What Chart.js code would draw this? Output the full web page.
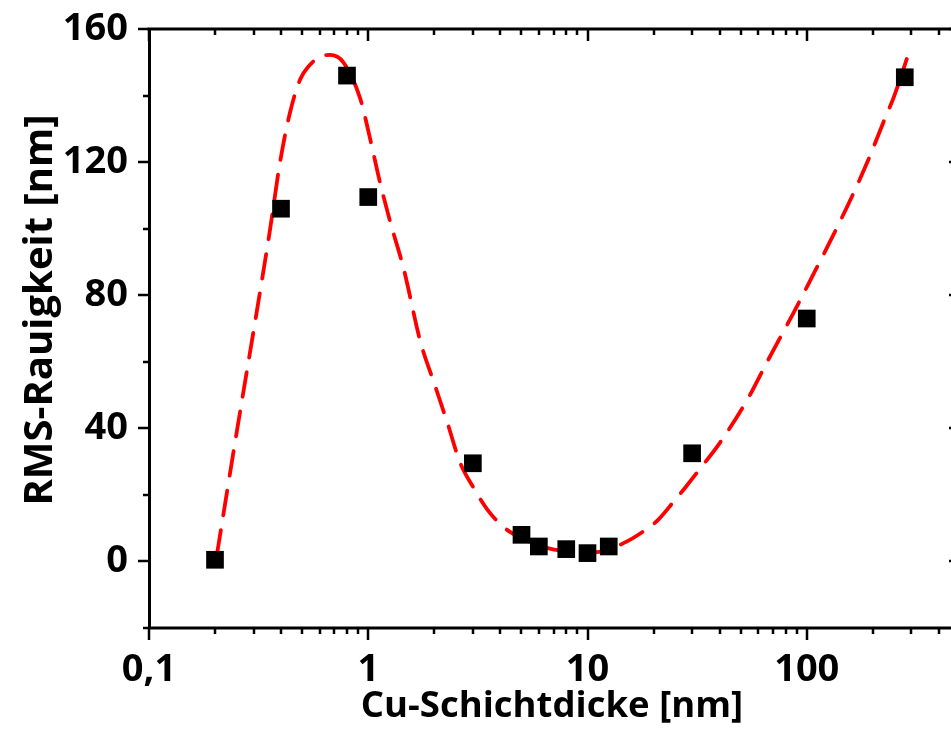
<!DOCTYPE html>
<html>
<head>
<meta charset="utf-8">
<script src="https://cdn.jsdelivr.net/npm/chart.js@4"></script>
<style>
  html, body { margin: 0; padding: 0; background: #fff; overflow: hidden; }
  canvas { display: block; }
</style>
</head>
<body>
<canvas id="chart" width="951" height="742"></canvas>
<script>
// Data
const thickness = [0.2, 0.4, 0.8, 1, 3, 5, 6, 8, 10, 12.5, 30, 100, 280];
const roughness = [0.5, 106, 146, 109.5, 29.5, 8, 4.5, 3.7, 2.5, 4.5, 32.5, 73, 145.5];

// Fitted guide curve (red dashed)
const fitX = [0.204, 0.25, 0.31, 0.357, 0.396, 0.44, 0.49, 0.53, 0.62, 0.67, 0.77, 0.92, 1.02, 1.13, 1.26, 1.45,
  1.73, 2.0, 2.3, 2.63, 3.0, 3.5, 4.2, 5.0, 6.8, 9, 11, 14.6, 18.4, 21, 25, 28, 33, 40, 54, 66, 87.5, 108, 129,
  159, 189, 225, 251, 286];
const fitY = [2, 38, 75, 100, 120, 135, 145, 148.5, 152, 152.2, 150, 139, 127, 114, 102, 88,
  66, 53.5, 41.5, 29.5, 22.5, 15.5, 10, 7, 3.8, 3, 2.8, 5.5, 9.5, 12.5, 18.4, 22.3, 28.3, 35.5, 49, 60, 75, 86.7, 96.7,
  109, 120, 132.4, 140, 151];

// Axis ticks
const xMajor = [0.1, 1, 10, 100];
const xMinorMult = [2, 3, 4, 5, 6, 7, 8, 9];
const yMajor = [0, 40, 80, 120, 160];
const yMinor = [-20, 20, 60, 100, 140];

const FONT = '"Open Sans", Lato, sans-serif';
const PLOT_RIGHT = 960; // right frame sits just past the canvas edge, as in the original crop

// Let the plot area run a little past the canvas edge
const extendRight = {
  id: 'extendRight',
  afterLayout(chart) {
    const x = chart.scales.x;
    x.right = PLOT_RIGHT;
    x.width = x.right - x.left;
    chart.chartArea.right = PLOT_RIGHT;
    chart.chartArea.width = PLOT_RIGHT - chart.chartArea.left;
    x.configure();
  }
};

// Frame, inner/outer tick marks and axis titles
const frameTicks = {
  id: 'frameTicks',
  afterDraw(chart) {
    const { ctx, chartArea: a, scales: { x, y } } = chart;
    ctx.save();
    ctx.strokeStyle = '#000';
    ctx.lineWidth = 3;
    ctx.beginPath();
    ctx.moveTo(a.left - 1.5, a.top);
    ctx.lineTo(a.right, a.top);
    ctx.lineTo(a.right, a.bottom);
    ctx.lineTo(a.left, a.bottom);
    ctx.stroke();

    ctx.lineWidth = 2.5;
    const xTicks = [];
    xMajor.forEach(v => xTicks.push([v, 12]));
    xMajor.forEach(d => xMinorMult.forEach(m => xTicks.push([d * m, 6])));
    ctx.beginPath();
    xTicks.forEach(([v, len]) => {
      if (v < x.min || v > x.max) return;
      const px = Math.round(x.getPixelForValue(v));
      ctx.moveTo(px, a.bottom); ctx.lineTo(px, a.bottom + len);
      ctx.moveTo(px, a.top); ctx.lineTo(px, a.top + len);
    });
    const yTicks = yMajor.map(v => [v, 11]).concat(yMinor.map(v => [v, 6]));
    yTicks.forEach(([v, len]) => {
      const py = Math.round(y.getPixelForValue(v));
      ctx.moveTo(a.left, py); ctx.lineTo(a.left - len, py);
      ctx.moveTo(a.right, py); ctx.lineTo(a.right - len, py);
    });
    ctx.stroke();

    ctx.fillStyle = '#000';
    ctx.font = 'bold 36.5px ' + FONT;
    ctx.textAlign = 'center';
    ctx.textBaseline = 'alphabetic';
    ctx.fillText('Cu-Schichtdicke [nm]', 552, 717);
    ctx.font = 'bold 40px ' + FONT;
    ctx.translate(52, 310);
    ctx.rotate(-Math.PI / 2);
    ctx.fillText('RMS-Rauigkeit [nm]', 0, 0);
    ctx.restore();
  }
};

new Chart(document.getElementById('chart'), {
  type: 'scatter',
  data: {
    datasets: [
      {
        label: 'Messwerte',
        data: thickness.map((t, i) => ({ x: t, y: roughness[i] })),
        pointStyle: 'rect',
        pointRadius: 12.5,
        backgroundColor: '#000',
        borderColor: '#000',
        borderWidth: 0,
        order: 0
      },
      {
        label: 'Fit',
        data: fitX.map((t, i) => ({ x: t, y: fitY[i] })),
        showLine: true,
        pointRadius: 0,
        borderColor: '#ff0000',
        borderWidth: 3.8,
        borderDash: [25, 15],
        borderCapStyle: 'round',
        cubicInterpolationMode: 'monotone',
        fill: false,
        order: 1
      }
    ]
  },
  options: {
    responsive: false,
    animation: false,
    layout: { padding: { top: 29, right: 0, left: 0, bottom: 0 } },
    plugins: { legend: { display: false }, tooltip: { enabled: false } },
    scales: {
      x: {
        type: 'logarithmic',
        min: 0.1,
        max: 500,
        afterBuildTicks: s => { s.ticks = xMajor.map(v => ({ value: v })); },
        afterFit: s => { s.height = 114; s.paddingLeft = 0; s.paddingRight = 0; },
        grid: { display: false, drawTicks: false },
        border: { display: false },
        ticks: {
          autoSkip: false,
          maxRotation: 0,
          padding: 19,
          color: '#000',
          font: { family: FONT, size: 38, weight: 'bold' },
          callback: v => (v === 0.1 ? '0,1' : String(v))
        }
      },
      y: {
        min: -20,
        max: 160,
        afterBuildTicks: s => { s.ticks = yMajor.map(v => ({ value: v })); },
        afterFit: s => { s.width = 149; s.paddingTop = 0; s.paddingBottom = 0; },
        grid: { display: false, drawTicks: false },
        border: { display: true, color: '#000', width: 3 },
        ticks: {
          padding: 21,
          color: '#000',
          font: { family: FONT, size: 38, weight: 'bold' }
        }
      }
    }
  },
  plugins: [extendRight, frameTicks]
});
</script>
</body>
</html>
